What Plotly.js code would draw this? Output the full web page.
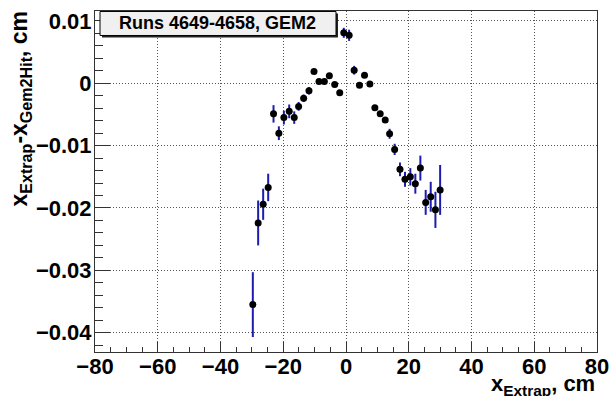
<!DOCTYPE html>
<html>
<head>
<meta charset="utf-8">
<script src="https://cdn.plot.ly/plotly-3.0.1.min.js"></script>
<style>html,body{margin:0;padding:0;background:#fff}#chart{width:611px;height:396px}</style>
</head>
<body>
<div id="chart"></div>
<script>
const xExtrap = [-29.7, -28.0, -26.4, -24.8, -23.1, -21.4, -19.8, -18.1, -16.5, -15.1,
  -13.5, -11.8, -10.2, -8.6, -6.9, -5.3, -3.6, -2.0, -0.7, 1.0,
  2.6, 4.3, 5.9, 7.6, 9.2, 10.9, 12.5, 13.9, 15.5, 17.2,
  18.8, 20.5, 22.1, 23.7, 25.4, 27.0, 28.5, 30.0];
const dxMean = [-0.0355, -0.0224, -0.0194, -0.0167, -0.0049, -0.0080, -0.0055, -0.0045, -0.0055, -0.0037,
  -0.0024, -0.0012, 0.0019, 0.0003, 0.0003, 0.0012, -0.0002, -0.0015, 0.0081, 0.0077,
  0.0021, -0.0003, 0.0013, -0.0001, -0.0039, -0.0049, -0.0059, -0.0081, -0.0106, -0.0138,
  -0.0154, -0.0150, -0.0161, -0.0136, -0.0191, -0.0182, -0.0203, -0.0171];
const dxErr = [0.0052, 0.0036, 0.0025, 0.0022, 0.0014, 0.0011, 0.0011, 0.0011, 0.0010, 0.0007,
  0.0006, 0.0006, 0.0003, 0.0003, 0.0003, 0.0003, 0.0003, 0.0003, 0.0008, 0.0009,
  0.0007, 0.0004, 0.0004, 0.0004, 0.0004, 0.0004, 0.0004, 0.0008, 0.0009, 0.0011,
  0.0012, 0.0014, 0.0016, 0.0020, 0.0020, 0.0024, 0.0029, 0.0040];
const xTickVals = [-80, -60, -40, -20, 0, 20, 40, 60, 80];
const yTickVals = [0.01, 0, -0.01, -0.02, -0.03, -0.04];
const legendText = "Runs 4649-4658, GEM2";
const xTitle = "x<sub>Extrap</sub>, cm";
const yTitle = "x<sub>Extrap</sub>-x<sub>Gem2Hit</sub>, cm";

const FONT = "Liberation Sans, Arial, sans-serif";

const trace = {
  x: xExtrap, y: dxMean, type: 'scatter', mode: 'markers',
  marker: {color: '#000', size: 7},
  error_y: {type: 'data', array: dxErr, visible: true, color: '#1c1cb0', thickness: 2, width: 0},
  hoverinfo: 'skip'
};

const axisCommon = {
  showline: true, mirror: true, linecolor: '#333', linewidth: 1,
  ticks: 'inside', tickcolor: '#333', tickwidth: 1,
  showgrid: true, gridcolor: '#555', griddash: '1px,2px', gridwidth: 1,
  zeroline: false,
  tickfont: {family: FONT, size: 22, color: '#000', weight: 'bold'},
  fixedrange: true
};

const layout = {
  width: 611, height: 396,
  margin: {l: 95, r: 14, t: 10.5, b: 44.3},
  paper_bgcolor: '#fff', plot_bgcolor: '#fff',
  showlegend: false,
  xaxis: Object.assign({}, axisCommon, {
    range: [-80, 80], tickmode: 'array', tickvals: xTickVals, ticklen: 10,
    ticklabelstandoff: -5,
    minor: {dtick: 5, ticklen: 5, tickcolor: '#333', showgrid: false, ticks: 'inside'}
  }),
  yaxis: Object.assign({}, axisCommon, {
    range: [-0.0431, 0.0116], tickmode: 'array', tickvals: yTickVals, ticklen: 15,
    ticklabelstandoff: -2,
    minor: {dtick: 0.002, tick0: 0, ticklen: 8, tickcolor: '#333', showgrid: false, ticks: 'inside'}
  }),
  shapes: [
    {type: 'rect', xref: 'paper', yref: 'paper',
     x0: (102 - 95) / 502, x1: (338 - 95) / 502,
     y0: (351.7 - 37) / 341.2, y1: (351.7 - 13) / 341.2,
     fillcolor: '#222', line: {width: 0}, layer: 'above'},
    {type: 'rect', xref: 'paper', yref: 'paper',
     x0: (100 - 95) / 502, x1: (336 - 95) / 502,
     y0: (351.7 - 35) / 341.2, y1: (351.7 - 11) / 341.2,
     fillcolor: '#f0f0f0', line: {width: 1, color: '#000'}, layer: 'above'}
  ],
  annotations: [
    {text: legendText, xref: 'paper', yref: 'paper',
     x: (217 - 95) / 502, y: (351.7 - 23) / 341.2, xanchor: 'center', yanchor: 'middle',
     showarrow: false, font: {family: FONT, size: 18, color: '#000', weight: 'bold'}},
    {text: xTitle, xref: 'paper', yref: 'paper',
     x: 1.0, y: (351.7 - 401) / 341.2, xanchor: 'right', yanchor: 'bottom',
     showarrow: false, font: {family: FONT, size: 22, color: '#000', weight: 'bold'}},
    {text: yTitle, xref: 'paper', yref: 'paper', textangle: -90,
     x: (21 - 95) / 502, y: (351.7 - 8) / 341.2, xanchor: 'center', yanchor: 'top',
     showarrow: false, font: {family: FONT, size: 23, color: '#000', weight: 'bold'}}
  ]
};

Plotly.newPlot('chart', [trace], layout, {staticPlot: true, displayModeBar: false});
</script>
</body>
</html>
